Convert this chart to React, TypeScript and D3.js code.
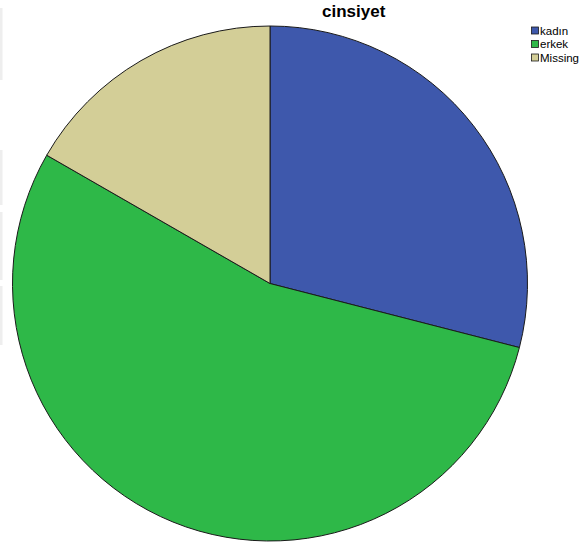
import React from "react";
import * as d3 from "d3";

const categories = ["kadın", "erkek", "Missing"];
const values = [29.0, 54.3, 16.7];
const colors = ["#3E58AC", "#2EB848", "#D3CE97"];
const title = "cinsiyet";

const W = 585;
const H = 546;

export default function App() {
  const cx = 270;
  const cy = 283.5;
  const r = 257.5;
  const pie = d3.pie<number>().sort(null).value((d) => d)(values);
  const arc = d3.arc<d3.PieArcDatum<number>>().innerRadius(0).outerRadius(r);
  const edgeSegs = [
    [8, 80],
    [150, 205],
    [212, 280],
    [286, 345],
  ];
  return (
    <svg
      width={W}
      height={H}
      style={{ position: "absolute", left: 0, top: 0, background: "#fff" }}
    >
      {edgeSegs.map((s, i) => (
        <rect key={i} x={0} y={s[0]} width={2.5} height={s[1] - s[0]} fill="#eeeeee" />
      ))}
      <g transform={`translate(${cx},${cy})`}>
        {pie.map((p, i) => (
          <path
            key={i}
            d={arc(p) || ""}
            fill={colors[i]}
            stroke="#1a1a1a"
            strokeWidth={1}
            strokeLinejoin="round"
          />
        ))}
      </g>
      <text
        x={353.7}
        y={17}
        textAnchor="middle"
        fontFamily="Liberation Sans, Arial, sans-serif"
        fontWeight="bold"
        fontSize={17}
        fill="#000"
      >
        {title}
      </text>
      <g fontFamily="Liberation Sans, Arial, sans-serif" fontSize={11.5} fill="#000">
        {categories.map((c, i) => (
          <g key={c} transform={`translate(531.5,${27 + i * 13.5})`}>
            <rect x={0} y={0} width={7} height={7} fill={colors[i]} stroke="#1a1a1a" strokeWidth={0.8} />
            <text x={8.5} y={7.5}>{c}</text>
          </g>
        ))}
      </g>
    </svg>
  );
}
